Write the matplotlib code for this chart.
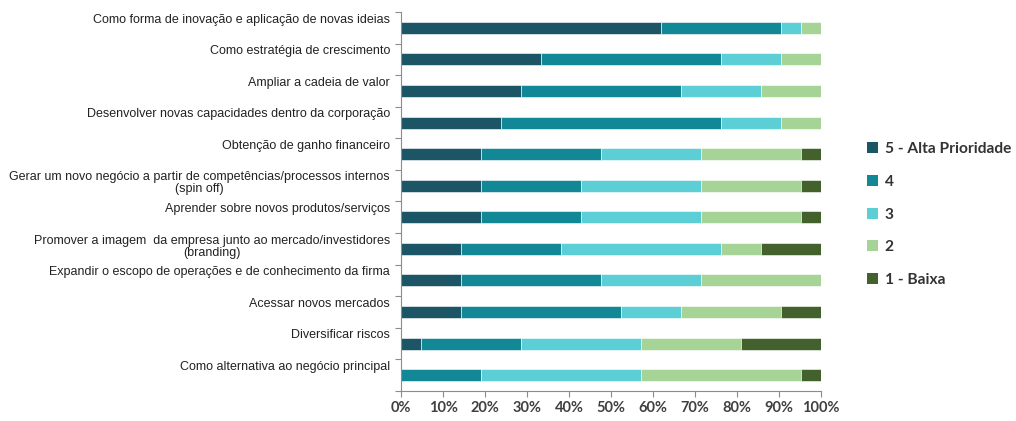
import numpy as np
import matplotlib.pyplot as plt
from matplotlib.patches import Patch

# categories (top to bottom)
categories = [
    "Como forma de inovação e aplicação de novas ideias",
    "Como estratégia de crescimento",
    "Ampliar a cadeia de valor",
    "Desenvolver novas capacidades dentro da corporação",
    "Obtenção de ganho financeiro",
    "Gerar um novo negócio a partir de competências/processos internos\n(spin off)",
    "Aprender sobre novos produtos/serviços",
    "Promover a imagem  da empresa junto ao mercado/investidores\n(branding)",
    "Expandir o escopo de operações e de conhecimento da firma",
    "Acessar novos mercados",
    "Diversificar riscos",
    "Como alternativa ao negócio principal",
]

# shares in %
p5 = [61.9, 33.3, 28.6, 23.8, 19.0, 19.0, 19.0, 14.3, 14.3, 14.3, 4.8, 0.0]
p4 = [28.6, 42.9, 38.1, 52.4, 28.6, 23.8, 23.8, 23.8, 33.3, 38.1, 23.8, 19.0]
p3 = [4.8, 14.3, 19.0, 14.3, 23.8, 28.6, 28.6, 38.1, 23.8, 14.3, 28.6, 38.1]
p2 = [4.8, 9.5, 14.3, 9.5, 23.8, 23.8, 23.8, 9.5, 28.6, 23.8, 23.8, 38.1]
p1 = [0.0, 0.0, 0.0, 0.0, 4.8, 4.8, 4.8, 14.3, 0.0, 9.5, 19.0, 4.8]

series = [p5, p4, p3, p2, p1]
names = ["5 - Alta Prioridade", "4", "3", "2", "1 - Baixa"]
colors = ["#1c5666", "#128796", "#5bced6", "#a6d396", "#43612d"]

fig = plt.figure(figsize=(10.16, 4.21), dpi=100)
ax = fig.add_axes([0.3947, 0.0713, 0.4134, 0.9002])

y = np.arange(len(categories))
left = np.zeros(len(categories))
for vals, c in zip(series, colors):
    vals = np.array(vals)
    ax.barh(y, vals, left=left, height=0.38, color=c, edgecolor="white", linewidth=0.4)
    left += vals

ax.set_xlim(0, 100)
ax.set_ylim(len(categories) - 0.5, -0.5)

# category labels sit above each bar
ax.set_yticks(np.arange(-0.5, len(categories), 1))
ax.set_yticklabels([])
for i, lab in enumerate(categories):
    ax.text(-2.6, i - 0.45, lab, ha="right", va="top", fontsize=9.0,
            family="Liberation Sans", color="#222222", linespacing=1.0,
            multialignment="center")

ax.set_xticks(np.arange(0, 101, 10))
ax.set_xticklabels([f"{v}%" for v in range(0, 101, 10)], fontsize=10.5,
                   family="Lato", fontweight="bold", color="#404040")

for s in ["top", "right"]:
    ax.spines[s].set_visible(False)
for s in ["left", "bottom"]:
    ax.spines[s].set_color("#8c8c8c")
ax.tick_params(axis="both", color="#8c8c8c", length=4)
ax.tick_params(axis="x", pad=3)

handles = [Patch(facecolor=c, label=n) for c, n in zip(colors, names)]
fig.legend(handles=handles, loc="center left", bbox_to_anchor=(0.84, 0.49),
           frameon=False, handlelength=0.7, handleheight=0.7, handletextpad=0.4,
           labelspacing=1.2, prop={"family": "Lato", "size": 11.2, "weight": "bold"},
           labelcolor="#333333")

fig.savefig("out.png", dpi=100)
